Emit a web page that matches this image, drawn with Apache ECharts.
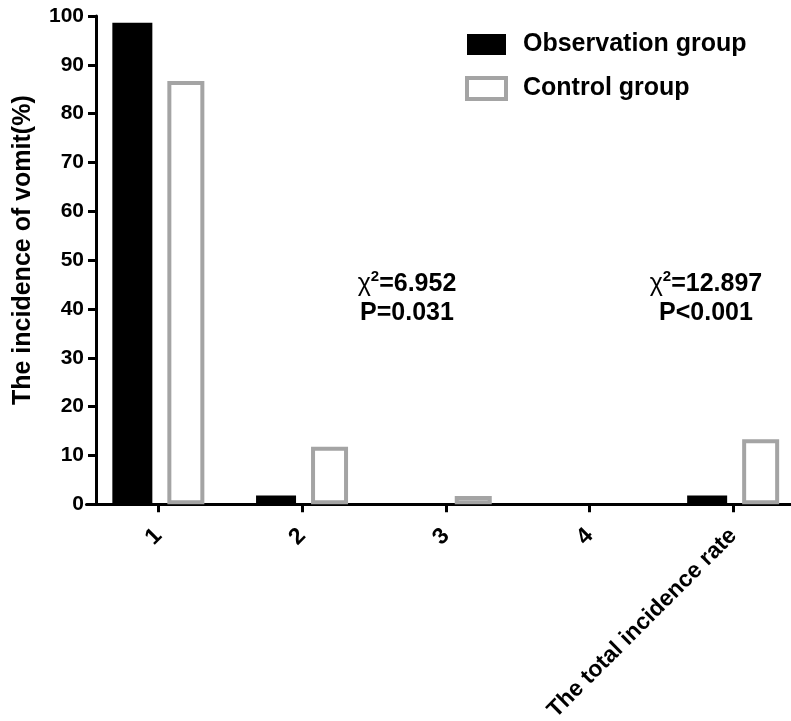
<!DOCTYPE html>
<html>
<head>
<meta charset="utf-8">
<script src="https://cdn.jsdelivr.net/npm/echarts@6/dist/echarts.min.js"></script>
<style>
html,body{margin:0;padding:0;background:#fff;}
#chart{width:791px;height:721px;}
</style>
</head>
<body>
<div id="chart"></div>
<script>
var categories = ['1', '2', '3', '4', 'The total incidence rate'];
var observationValues = [98.6, 1.8, 0, 0, 1.8];
var controlValues = [86.7, 11.8, 1.7, 0, 13.3];
var yTicks = [0, 10, 20, 30, 40, 50, 60, 70, 80, 90, 100];
var seriesNames = ['Observation group', 'Control group'];
var annotations = [
  {chi: '=6.952', p: 'P=0.031'},
  {chi: '=12.897', p: 'P<0.001'}
];

var FONT = '"Liberation Sans", Arial, Helvetica, sans-serif';
var GREY = '#a4a4a4';

function hideZero(arr) {
  return arr.map(function (v) { return v === 0 ? '-' : v; });
}

var chart = echarts.init(document.getElementById('chart'), null, {renderer: 'canvas'});

function annotationGraphic(a, cx, cy) {
  return [
    {
      type: 'text', x: cx, y: cy, z: 100,
      style: {
        text: '{g|χ}{s|2}{n|' + a.chi + '}',
        align: 'center', verticalAlign: 'middle',
        fill: '#000',
        rich: {
          g: {fontFamily: FONT, fontSize: 25, fontWeight: 'normal', fill: '#000'},
          s: {fontFamily: FONT, fontSize: 15, fontWeight: 'bold', fill: '#000', padding: [0, 0, 14, 0]},
          n: {fontFamily: FONT, fontSize: 25, fontWeight: 'bold', fill: '#000'}
        }
      }
    },
    {
      type: 'text', x: cx, y: cy + 29, z: 100,
      style: {
        text: a.p, align: 'center', verticalAlign: 'middle',
        fill: '#000', font: 'bold 25px ' + FONT
      }
    }
  ];
}

var option = {
  animation: false,
  backgroundColor: '#fff',
  grid: {left: 86.5, top: 16, width: 718.5, bottom: 216.7, containLabel: false, outerBoundsMode: 'none'},
  legend: {
    orient: 'vertical',
    left: 465, top: 32,
    padding: 0,
    itemWidth: 39, itemHeight: 21, itemGap: 19,
    icon: 'rect',
    textStyle: {fontFamily: FONT, fontSize: 25, fontWeight: 'bold', color: '#000', padding: [0, 0, 0, 12]},
    data: [
      {name: seriesNames[0], itemStyle: {color: '#000', borderWidth: 0}},
      {name: seriesNames[1], itemStyle: {color: '#fff', borderColor: GREY, borderWidth: 4}}
    ]
  },
  xAxis: {
    type: 'category',
    data: categories,
    axisLine: {show: true, onZero: false, lineStyle: {color: '#000', width: 3}},
    axisTick: {show: true, alignWithLabel: true, length: 8, lineStyle: {color: '#000', width: 3}},
    axisLabel: {rotate: 45, margin: 28, fontFamily: FONT, fontSize: 23, fontWeight: 'bold', color: '#000', interval: 0},
    splitLine: {show: false}
  },
  yAxis: {
    type: 'value',
    min: 0, max: 100, interval: 10,
    offset: -9.5,
    name: 'The incidence of vomit(%)',
    nameLocation: 'middle',
    nameGap: 60,
    nameRotate: 90,
    nameTextStyle: {fontFamily: FONT, fontSize: 25, fontWeight: 'bold', color: '#000', padding: [0, 0, 0, 20]},
    axisLine: {show: true, lineStyle: {color: '#000', width: 3}},
    axisTick: {show: true, length: 8, lineStyle: {color: '#000', width: 3}},
    axisLabel: {
      margin: 12, fontFamily: FONT, fontSize: 21, fontWeight: 'bold', color: '#000',
      formatter: function (v) { return yTicks.indexOf(v) >= 0 ? String(v) : ''; }
    },
    splitLine: {show: false}
  },
  series: [
    {
      name: seriesNames[0],
      type: 'bar',
      data: hideZero(observationValues),
      barWidth: 40,
      barGap: '37.5%',
      itemStyle: {color: '#000', borderWidth: 0}
    },
    {
      name: seriesNames[1],
      type: 'bar',
      data: hideZero(controlValues),
      barWidth: 37,
      barGap: '37.5%',
      itemStyle: {color: '#fff', borderColor: GREY, borderWidth: 4}
    }
  ],
  graphic: [].concat(
    annotationGraphic(annotations[0], 407, 284),
    annotationGraphic(annotations[1], 706, 284)
  )
};

chart.setOption(option);
</script>
</body>
</html>
